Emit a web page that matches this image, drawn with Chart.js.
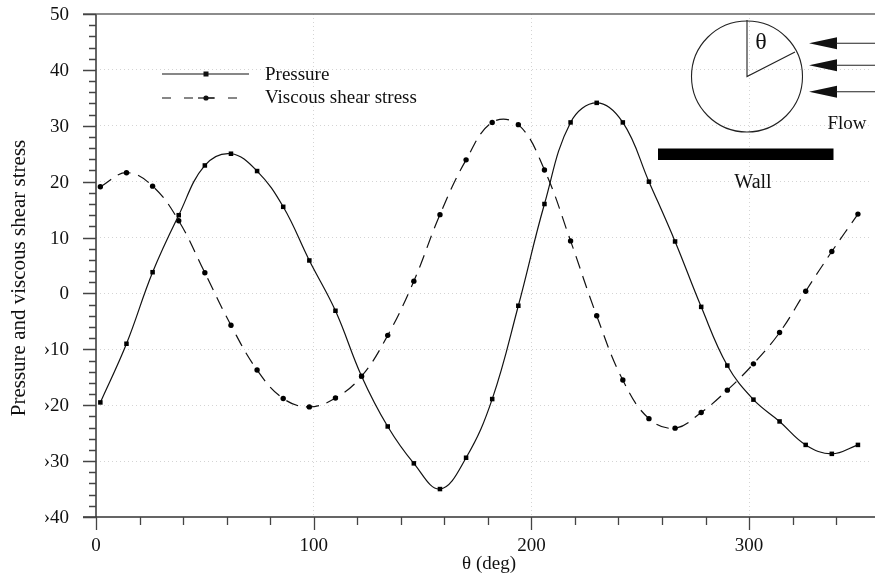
<!DOCTYPE html>
<html>
<head>
<meta charset="utf-8">
<script src="https://cdn.jsdelivr.net/npm/chart.js@4.4.0/dist/chart.umd.min.js"></script>
<style>
  html, body { margin: 0; padding: 0; background: #fff; }
  #wrap { width: 875px; height: 573px; }
</style>
</head>
<body>
<div id="wrap"><canvas id="chart" width="875" height="573"></canvas></div>
<script>
// angle around the cylinder (deg)
var theta = [2, 14, 26, 38, 50, 62, 74, 86, 98, 110, 122, 134, 146, 158, 170,
             182, 194, 206, 218, 230, 242, 254, 266, 278, 290, 302, 314, 326, 338, 350];
var pressure = [-19.5, -9.0, 3.8, 14.0, 22.9, 25.0, 21.9, 15.5, 5.9, -3.1, -14.8, -23.8, -30.4, -35.0, -29.4,
                -18.9, -2.2, 16.0, 30.6, 34.1, 30.6, 20.0, 9.3, -2.4, -12.9, -19.0, -22.9, -27.1, -28.7, -27.1];
var viscous = [19.1, 21.6, 19.2, 13.0, 3.7, -5.7, -13.7, -18.8, -20.3, -18.7, -14.8, -7.5, 2.2, 14.1, 23.9,
               30.6, 30.2, 22.1, 9.4, -4.0, -15.5, -22.4, -24.1, -21.3, -17.3, -12.6, -7.0, 0.4, 7.5, 14.2];
var seriesNames = ['Pressure', 'Viscous shear stress'];
var xMajor = [0, 100, 200, 300];
var yMajor = [-40, -30, -20, -10, 0, 10, 20, 30, 40, 50];
var xTitle = 'θ (deg)';
var yTitle = 'Pressure and viscous shear stress';

var FONT = 'Liberation Serif, Times New Roman, serif';

function pts(ys) {
    return theta.map(function (t, i) { return { x: t, y: ys[i] }; });
}

function yLabel(v) {
    return v < 0 ? '›' + (-v) : String(v);
}

// axis lines, ticks, labels, legend and the small sketch of the set-up
var decor = {
    id: 'decor',
    afterDraw: function (chart) {
        var ctx = chart.ctx;
        var a = chart.chartArea;
        var xs = chart.scales.x, ys = chart.scales.y;
        ctx.save();

        // frame
        ctx.strokeStyle = '#333';
        ctx.lineWidth = 1.5;
        ctx.beginPath();
        ctx.moveTo(a.left, a.top); ctx.lineTo(a.left, a.bottom);
        ctx.moveTo(a.left - 13, a.bottom); ctx.lineTo(875, a.bottom);
        ctx.stroke();
        ctx.strokeStyle = '#666';
        ctx.beginPath();
        ctx.moveTo(a.left - 13, a.top); ctx.lineTo(875, a.top);
        ctx.stroke();

        // tick marks
        ctx.strokeStyle = '#444';
        ctx.lineWidth = 1.3;
        ctx.beginPath();
        for (var v = -40; v <= 50; v += 2) {
            var py = Math.round(ys.getPixelForValue(v)) + 0.5;
            var len = (v % 10 === 0) ? 13 : 7;
            ctx.moveTo(a.left - len, py); ctx.lineTo(a.left, py);
        }
        for (var u = 0; u <= 340; u += 20) {
            var px = Math.round(xs.getPixelForValue(u)) + 0.5;
            var l2 = (u % 100 === 0) ? 13 : 8;
            ctx.moveTo(px, a.bottom); ctx.lineTo(px, a.bottom + l2);
        }
        ctx.stroke();

        // tick labels
        ctx.fillStyle = '#111';
        ctx.font = '19px ' + FONT;
        ctx.textBaseline = 'middle';
        ctx.textAlign = 'right';
        yMajor.forEach(function (v) {
            ctx.fillText(yLabel(v), 69, ys.getPixelForValue(v) + 1);
        });
        ctx.textAlign = 'center';
        xMajor.forEach(function (v) {
            ctx.fillText(String(v), xs.getPixelForValue(v), 546);
        });

        // axis titles
        ctx.fillText(xTitle, 489, 564);
        ctx.save();
        ctx.translate(19, 278);
        ctx.rotate(-Math.PI / 2);
        ctx.font = '21px ' + FONT;
        ctx.fillText(yTitle, 0, 0);
        ctx.restore();

        // legend
        ctx.strokeStyle = '#111';
        ctx.lineWidth = 1.2;
        ctx.font = '19px ' + FONT;
        ctx.textAlign = 'left';
        ctx.beginPath();
        ctx.moveTo(162, 74); ctx.lineTo(249, 74);
        ctx.stroke();
        ctx.fillRect(203.5, 71.5, 5, 5);
        ctx.fillText(seriesNames[0], 265, 75);
        ctx.setLineDash([9, 13]);
        ctx.beginPath();
        ctx.moveTo(162, 98); ctx.lineTo(249, 98);
        ctx.stroke();
        ctx.setLineDash([]);
        ctx.beginPath();
        ctx.moveTo(198, 98); ctx.lineTo(214, 98);
        ctx.stroke();
        ctx.beginPath();
        ctx.arc(206, 98, 2.6, 0, Math.PI * 2);
        ctx.fill();
        ctx.fillText(seriesNames[1], 265, 98);

        // cylinder with angle
        ctx.lineWidth = 1.1;
        ctx.strokeStyle = '#222';
        ctx.beginPath();
        ctx.arc(747, 76.5, 55.5, 0, Math.PI * 2);
        ctx.stroke();
        ctx.beginPath();
        ctx.moveTo(747, 20); ctx.lineTo(747, 76.5); ctx.lineTo(795, 52);
        ctx.stroke();
        ctx.font = '24px ' + FONT;
        ctx.textAlign = 'center';
        ctx.fillText('θ', 761, 43);

        // flow arrows
        [43.3, 65.3, 91.7].forEach(function (ay) {
            ctx.beginPath();
            ctx.moveTo(809, ay); ctx.lineTo(837, ay - 6); ctx.lineTo(837, ay + 6);
            ctx.closePath();
            ctx.fill();
            ctx.beginPath();
            ctx.moveTo(836, ay); ctx.lineTo(875, ay);
            ctx.stroke();
        });
        ctx.font = '19px ' + FONT;
        ctx.fillText('Flow', 847, 124);

        // wall
        ctx.fillStyle = '#000';
        ctx.fillRect(658, 148.5, 175.5, 11.5);
        ctx.fillStyle = '#111';
        ctx.font = '20px ' + FONT;
        ctx.fillText('Wall', 753, 183);

        ctx.restore();
    }
};

new Chart(document.getElementById('chart').getContext('2d'), {
    type: 'line',
    data: {
        datasets: [{
            label: seriesNames[0],
            data: pts(pressure),
            borderColor: '#111',
            borderWidth: 1.2,
            tension: 0.4,
            fill: false,
            pointStyle: 'rect',
            pointRadius: 3.2,
            pointBackgroundColor: '#000',
            pointBorderWidth: 0
        }, {
            label: seriesNames[1],
            data: pts(viscous),
            borderColor: '#111',
            borderWidth: 1.2,
            borderDash: [13, 8],
            tension: 0.4,
            fill: false,
            pointStyle: 'circle',
            pointRadius: 2.7,
            pointBackgroundColor: '#000',
            pointBorderWidth: 0
        }]
    },
    options: {
        responsive: false,
        animation: false,
        layout: { padding: { left: 0, right: 0, top: 14, bottom: 0 } },
        plugins: {
            legend: { display: false },
            tooltip: { enabled: false }
        },
        scales: {
            x: {
                type: 'linear',
                min: 0,
                max: 356,
                afterFit: function (s) { s.height = 56; },
                border: { display: false, dash: [1, 3] },
                grid: {
                    drawTicks: false,
                    color: function (c) {
                        var v = c.tick && c.tick.value;
                        return (v === 100 || v === 200 || v === 300) ? '#d4d4d4' : 'rgba(0,0,0,0)';
                    },
                    lineWidth: 1
                },
                ticks: { display: false, stepSize: 100 }
            },
            y: {
                min: -40,
                max: 50,
                afterFit: function (s) { s.width = 96; },
                border: { display: false, dash: [1, 3] },
                grid: {
                    drawTicks: false,
                    color: function (c) {
                        var v = c.tick && c.tick.value;
                        return (v > -40 && v < 50) ? '#d4d4d4' : 'rgba(0,0,0,0)';
                    },
                    lineWidth: 1
                },
                ticks: { display: false, stepSize: 10 }
            }
        }
    },
    plugins: [decor]
});
</script>
</body>
</html>
